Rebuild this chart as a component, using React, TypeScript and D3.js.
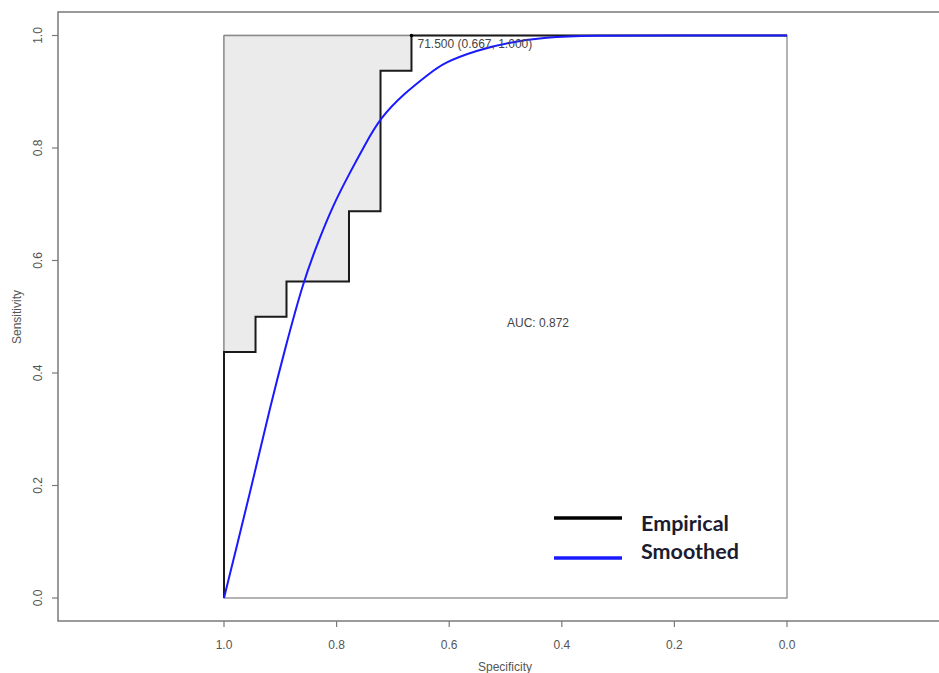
import React from "react";
import * as d3 from "d3";

// Empirical ROC steps (specificity, sensitivity)
const empiricalSpec = [1, 1, 0.944, 0.944, 0.889, 0.889, 0.778, 0.778, 0.722, 0.722, 0.667, 0.667, 0];
const empiricalSens = [0, 0.4375, 0.4375, 0.5, 0.5, 0.5625, 0.5625, 0.6875, 0.6875, 0.9375, 0.9375, 1, 1];

// Smoothed (binormal) ROC curve samples
const smoothSpec = [1, 0.979, 0.957, 0.915, 0.892, 0.86, 0.833, 0.806, 0.776, 0.75, 0.723, 0.679, 0.634, 0.611, 0.551, 0.492, 0.43, 0.35, 0.2, 0];
const smoothSens = [0, 0.085, 0.174, 0.352, 0.441, 0.56, 0.633, 0.699, 0.757, 0.805, 0.853, 0.898, 0.933, 0.951, 0.974, 0.988, 0.997, 1, 1, 1];

const tickValues = [1.0, 0.8, 0.6, 0.4, 0.2, 0.0];
const bestThreshold = { label: "71.500 (0.667, 1.000)", spec: 0.667, sens: 1.0 };
const aucLabel = "AUC: 0.872";
const legendItems = [
  { name: "Empirical", color: "#000000" },
  { name: "Smoothed", color: "#1a1aff" },
];

const W = 939;
const H = 673;

export default function App() {
  const x = d3.scaleLinear().domain([1, 0]).range([224, 787]);
  const y = d3.scaleLinear().domain([0, 1]).range([598, 35.5]);

  const empPts: [number, number][] = empiricalSpec.map((s, i) => [s, empiricalSens[i]]);
  const smoothPts: [number, number][] = smoothSpec.map((s, i) => [s, smoothSens[i]]);

  const line = d3
    .line<[number, number]>()
    .x((d) => x(d[0]))
    .y((d) => y(d[1]));
  const smoothLine = d3
    .line<[number, number]>()
    .x((d) => x(d[0]))
    .y((d) => y(d[1]))
    .curve(d3.curveBasis);

  // Region between the empirical curve and the perfect-classifier corner
  const polyPts: [number, number][] = [[1, 1], ...empPts.slice(1, empPts.length - 1)];
  const polyPath = line(polyPts) + "Z";

  const font = "'Liberation Sans', Arial, sans-serif";
  const frame = { left: 58, top: 12, right: 945, bottom: 621 };

  return (
    <svg
      width={W}
      height={H}
      style={{ position: "absolute", left: 0, top: 0, display: "block", background: "#fff" }}
    >
      {/* outer plot frame */}
      <rect
        x={frame.left}
        y={frame.top}
        width={frame.right - frame.left}
        height={frame.bottom - frame.top}
        fill="#fff"
        stroke="#7a7a7a"
        strokeWidth={1.5}
      />

      {/* unit square */}
      <rect
        x={x(1)}
        y={y(1)}
        width={x(0) - x(1)}
        height={y(0) - y(1)}
        fill="#fff"
        stroke="#8a8a8a"
        strokeWidth={1.3}
      />

      <path d={polyPath} fill="#ebebeb" stroke="none" />
      <line x1={x(1)} x2={x(1)} y1={y(1)} y2={y(0.4375)} stroke="#8a8a8a" strokeWidth={1.3} />
      <line x1={x(1)} x2={x(0.667)} y1={y(1)} y2={y(1)} stroke="#8a8a8a" strokeWidth={1.3} />

      {/* empirical step curve */}
      <path d={line(empPts) ?? ""} fill="none" stroke="#1a1a1a" strokeWidth={2} />

      {/* smoothed curve */}
      <path d={smoothLine(smoothPts) ?? ""} fill="none" stroke="#1a1aff" strokeWidth={2} />

      {/* best threshold */}
      <circle cx={x(bestThreshold.spec)} cy={y(bestThreshold.sens)} r={1.8} fill="#000" />
      <text
        x={x(bestThreshold.spec) + 6}
        y={y(bestThreshold.sens) + 12}
        fontFamily={font}
        fontSize={12}
        fill="#444"
      >
        {bestThreshold.label}
      </text>

      <text x={538} y={327} textAnchor="middle" fontFamily={font} fontSize={12} fill="#444">
        {aucLabel}
      </text>

      {/* x axis */}
      {tickValues.map((t) => (
        <g key={"x" + t}>
          <line x1={x(t)} x2={x(t)} y1={frame.bottom} y2={frame.bottom + 6} stroke="#7a7a7a" strokeWidth={1.2} />
          <text x={x(t)} y={649} textAnchor="middle" fontFamily={font} fontSize={12} fill="#555">
            {t.toFixed(1)}
          </text>
        </g>
      ))}
      <text x={505} y={671} textAnchor="middle" fontFamily={font} fontSize={12} fill="#555">
        Specificity
      </text>

      {/* y axis */}
      {tickValues.map((t) => (
        <g key={"y" + t}>
          <line x1={frame.left - 6} x2={frame.left} y1={y(t)} y2={y(t)} stroke="#7a7a7a" strokeWidth={1.2} />
          <text
            transform={`translate(42, ${y(t)}) rotate(-90)`}
            textAnchor="middle"
            fontFamily={font}
            fontSize={12}
            fill="#555"
          >
            {t.toFixed(1)}
          </text>
        </g>
      ))}
      <text
        transform={`translate(21, 317) rotate(-90)`}
        textAnchor="middle"
        fontFamily={font}
        fontSize={12}
        fill="#555"
      >
        Sensitivity
      </text>

      {/* legend */}
      {legendItems.map((item, i) => (
        <g key={item.name}>
          <line
            x1={554}
            x2={622}
            y1={518 + i * 40}
            y2={518 + i * 40}
            stroke={item.color}
            strokeWidth={3.5}
          />
          <text
            x={641}
            y={531 + i * 28}
            fontFamily="Lato, 'Open Sans', sans-serif"
            fontWeight={700}
            fontSize={21.5}
            fill="#1c1c30"
          >
            {item.name}
          </text>
        </g>
      ))}
    </svg>
  );
}
